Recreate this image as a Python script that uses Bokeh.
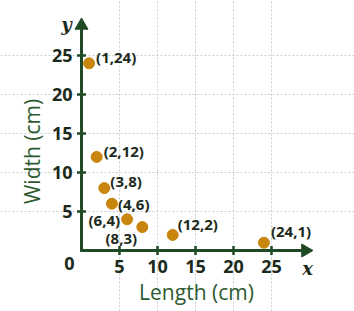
import math
from bokeh.plotting import figure
from bokeh.models import Range1d, Label, Arrow, FixedTicker, ColumnDataSource
from bokeh.core.properties import value
from bokeh.embed import file_html
from bokeh.resources import INLINE

length = [1, 2, 3, 4, 6, 8, 12, 24]
width = [24, 12, 8, 6, 4, 3, 2, 1]
point_labels = ["(1,24)", "(2,12)", "(3,8)", "(4,6)", "(6,4)", "(8,3)", "(12,2)", "(24,1)"]
ticks = [5, 10, 15, 20, 25]
tick_labels = ["5", "10", "15", "20", "25"]

# label placement (screen px, relative to each point)
dx = [7, 7, 6, 6, -7, -21, 5, 7]
dy = [-6, -6, -7, 0, 1, 11, -11, -12]
align = ["left", "left", "left", "left", "right", "center", "left", "left"]

AX = "#1f4a25"
TXT = "#1c2a1c"
LBL = "#2d5a2f"
PT = "#c8860f"

W, H = 354, 311
X0PX, Y0PX = 81, 250   # pixel position of the origin
SX, SY = 7.6, 7.8      # pixels per unit

p = figure(width=W, height=H, output_backend="svg", toolbar_location=None,
           x_range=Range1d(-X0PX / SX, (W - X0PX) / SX),
           y_range=Range1d(-(H - Y0PX) / SY, Y0PX / SY),
           min_border=0)
p.outline_line_color = None
p.axis.visible = False
p.background_fill_color = "white"
p.border_fill_color = "white"

for g in (p.xgrid[0], p.ygrid[0]):
    g.ticker = FixedTicker(ticks=ticks)
    g.grid_line_color = "#c5d0cc"
    g.grid_line_dash = "2 2"
    g.grid_line_width = 1
    g.bounds = (0, 30)

# axis lines
p.add_layout(Arrow(x_start=-0.15, y_start=0, x_end=29.6, y_end=0, line_color=AX, line_width=3, end=None))
p.add_layout(Arrow(x_start=0, y_start=-0.15, x_end=0, y_end=29.0, line_color=AX, line_width=3, end=None))
# arrow heads
p.scatter([29.47], [0], marker="triangle", angle=-math.pi / 2, size=13, fill_color=AX, line_color=AX)
p.scatter([0], [28.85], marker="triangle", size=13, fill_color=AX, line_color=AX)

# tick marks
zeros = [0] * len(ticks)
p.scatter(ticks, zeros, marker="dash", angle=math.pi / 2, size=9, line_color=AX, line_width=2.5)
p.scatter(zeros, ticks, marker="dash", size=9, line_color=AX, line_width=2.5)

# tick labels
p.text(ticks, zeros, text=tick_labels, y_offset=16, text_align="center", text_baseline="middle",
       text_font=value("Open Sans"), text_font_style="bold", text_font_size="18px", text_color=TXT)
p.text(zeros, ticks, text=tick_labels, x_offset=-9, text_align="right", text_baseline="middle",
       text_font=value("Open Sans"), text_font_style="bold", text_font_size="18px", text_color=TXT)

src = ColumnDataSource(dict(x=length, y=width, t=point_labels, dx=dx, dy=dy, a=align))
p.scatter("x", "y", source=src, size=11, fill_color=PT, line_color=PT)
p.text("x", "y", text="t", source=src, x_offset="dx", y_offset="dy", text_align="a",
       text_baseline="middle", text_font=value("Open Sans"), text_font_style="bold",
       text_font_size="15px", text_color=TXT)

p.add_layout(Label(x=-1.58, y=-1.67, text="0", text_align="center", text_baseline="middle",
                   text_font="Open Sans", text_font_style="bold", text_font_size="18px",
                   text_color=TXT))
p.add_layout(Label(x=-6.45, y=12.7, text="Width (cm)", angle=math.pi / 2, text_align="center",
                   text_baseline="middle", text_font="Open Sans", text_font_size="21px",
                   text_color=LBL))
p.add_layout(Label(x=15.13, y=-5.26, text="Length (cm)", text_align="center",
                   text_baseline="middle", text_font="Open Sans", text_font_size="21px",
                   text_color=LBL))
p.add_layout(Label(x=-1.97, y=28.97, text="y", text_align="center", text_baseline="middle",
                   text_font="DejaVu Serif", text_font_style="bold italic", text_font_size="18px",
                   text_color=TXT))
p.add_layout(Label(x=29.74, y=-2.31, text="x", text_align="center", text_baseline="middle",
                   text_font="DejaVu Serif", text_font_style="bold italic", text_font_size="18px",
                   text_color=TXT))

open("out.html", "w").write(file_html(p, INLINE))
